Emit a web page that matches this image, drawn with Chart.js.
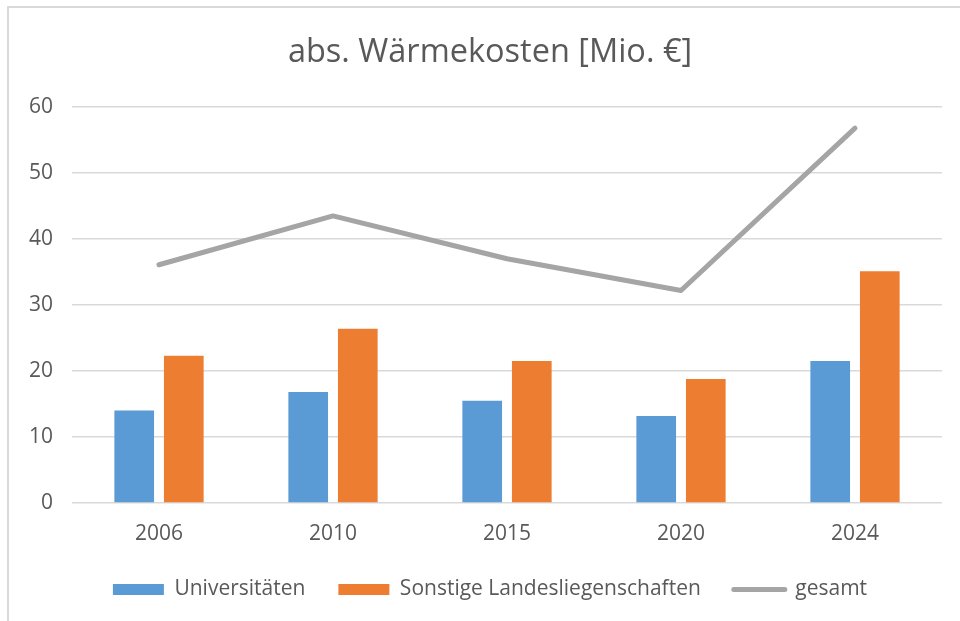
<!DOCTYPE html>
<html>
<head>
<meta charset="utf-8">
<script src="https://cdn.jsdelivr.net/npm/chart.js@4.4.1/dist/chart.umd.min.js"></script>
<style>
  html, body { margin: 0; padding: 0; background: #fff; overflow: hidden; }
  .frame {
    position: absolute; left: 7px; top: 6px;
    width: 2000px; height: 2000px;
    border: 2px solid #d9d9d9;
  }
  #chart { position: absolute; left: 0; top: 0; }
</style>
</head>
<body>
<div class="frame"></div>
<canvas id="chart" width="960" height="621"></canvas>
<script>
const categories = ['2006', '2010', '2015', '2020', '2024'];
const universitaeten = [14.0, 16.8, 15.5, 13.2, 21.5];
const sonstige = [22.3, 26.4, 21.5, 18.8, 35.1];
const gesamt = [36.1, 43.5, 37.0, 32.2, 56.8];
const yTicks = [0, 10, 20, 30, 40, 50, 60];

const FONT = '"Open Sans", Calibri, sans-serif';
const TEXT = '#595959';

Chart.defaults.animation = false;

const ctx = document.getElementById('chart').getContext('2d');
window.waerme = new Chart(ctx, {
    type: 'bar',
    data: {
        labels: categories,
        datasets: [
            {
                label: 'Universitäten',
                data: universitaeten,
                backgroundColor: '#5b9bd5',
                borderColor: '#5b9bd5',
                categoryPercentage: 0.57,
                barPercentage: 0.8,
            },
            {
                label: 'Sonstige Landesliegenschaften',
                data: sonstige,
                backgroundColor: '#ed7d31',
                borderColor: '#ed7d31',
                categoryPercentage: 0.57,
                barPercentage: 0.8,
            },
            {
                type: 'line',
                label: 'gesamt',
                data: gesamt,
                borderColor: '#a5a5a5',
                backgroundColor: '#a5a5a5',
                borderWidth: 5,
                borderCapStyle: 'round',
                borderJoinStyle: 'round',
                pointRadius: 0,
                tension: 0,
            }
        ]
    },
    options: {
        responsive: false,
        layout: { padding: { left: 27, right: 7, top: 0, bottom: 11 } },
        scales: {
            x: {
                grid: { display: false, drawTicks: false },
                border: { display: false },
                ticks: { color: TEXT, font: { family: FONT, size: 21, lineHeight: 1 }, padding: 20.5 },
                afterFit: (scale) => { scale.height = 43; },
            },
            y: {
                min: 0,
                max: 60,
                afterBuildTicks: (scale) => { scale.ticks = yTicks.map(v => ({ value: v })); },
                grid: { color: '#d9d9d9', lineWidth: 1.5, drawTicks: false },
                border: { display: false },
                ticks: { color: TEXT, font: { family: FONT, size: 21 }, padding: 19 },
                afterFit: (scale) => { scale.width = 45; },
            },
            // empty right margin so title and legend sit centred like in the original
            spacer: {
                position: 'right',
                grid: { display: false, drawTicks: false },
                border: { display: false },
                ticks: { display: false },
                afterFit: (scale) => { scale.width = 11; },
            }
        },
        plugins: {
            title: {
                display: true,
                text: 'abs. Wärmekosten [Mio. €]',
                color: TEXT,
                font: { family: FONT, size: 32.5, weight: 'normal' },
                padding: { top: 33, bottom: 35 },
            },
            legend: {
                position: 'bottom',
                labels: {
                    color: TEXT,
                    font: { family: FONT, size: 21 },
                    usePointStyle: true,
                    pointStyleWidth: 51,
                    boxHeight: 11,
                    padding: 33,
                    generateLabels: (chart) => chart.data.datasets.map((ds, i) => ({
                        text: ds.label,
                        fillStyle: ds.backgroundColor,
                        strokeStyle: ds.borderColor,
                        lineWidth: ds.type === 'line' ? 5 : 0,
                        lineCap: 'round',
                        pointStyle: ds.type === 'line' ? 'line' : 'rect',
                        fontColor: TEXT,
                        hidden: false,
                        datasetIndex: i,
                    })),
                },
            },
            tooltip: { enabled: false },
        }
    }
});
</script>
</body>
</html>
